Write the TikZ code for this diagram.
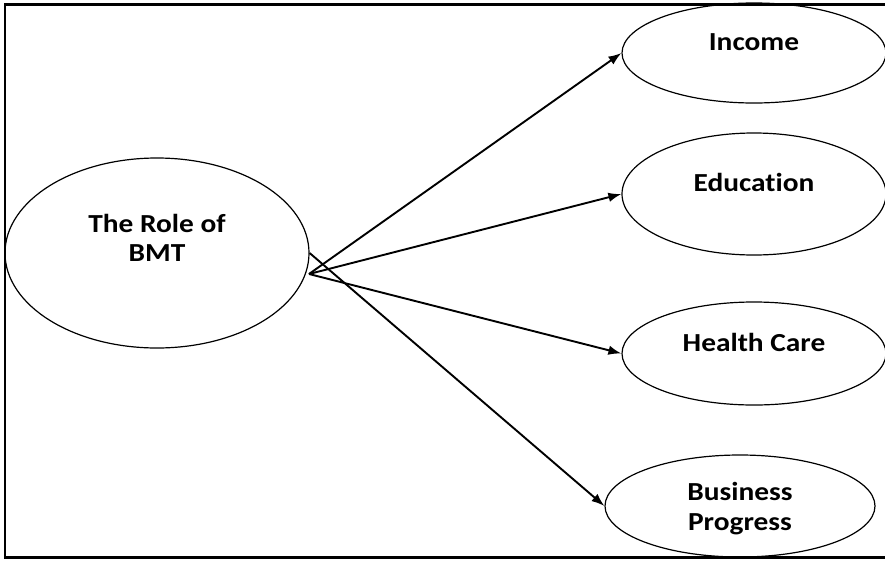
\documentclass[tikz,border=0pt]{standalone}
\usepackage{fontspec}
\setmainfont{Carlito}[FakeStretch=1.13,Ligatures=NoCommon]
\usetikzlibrary{shapes.geometric,arrows.meta}

\begin{document}
\begin{tikzpicture}[x=1pt,y=-1pt,
	oval/.style={draw,ellipse,line width=1.2pt,inner sep=0pt,align=center,
		font=\fontsize{26}{29.5}\selectfont\bfseries,text height=17pt},
	link/.style={line width=1.9pt,-{Latex[length=13pt,width=9.5pt]}}]
	\useasboundingbox (0,0) rectangle (885,560);
	\draw[line width=2.5pt] (5,4.5) rectangle (895,557.5);

	\node[oval,minimum width=304pt,minimum height=190pt,text depth=0pt] (bmt) at (157,253) {The Role of\\BMT};
	\node[oval,minimum width=264pt,minimum height=100pt,text depth=22pt] (inc) at (754,53) {Income};
	\node[oval,minimum width=264pt,minimum height=122pt,text depth=22pt] (edu) at (754,194) {Education};
	\node[oval,minimum width=264pt,minimum height=103pt,text depth=22pt] (hlth) at (754,353.5) {Health Care};
	\node[oval,minimum width=270pt,minimum height=102pt,text height=48pt,text depth=0pt] (bus) at (740,506) {Business\\Progress};

	\coordinate (fan) at (309,274);
	\draw[link] (fan) -- (inc.west);
	\draw[link] (fan) -- (edu.west);
	\draw[link] (fan) -- (hlth.west);
	\draw[link] (bmt.east) -- (bus.west);
\end{tikzpicture}
\end{document}
